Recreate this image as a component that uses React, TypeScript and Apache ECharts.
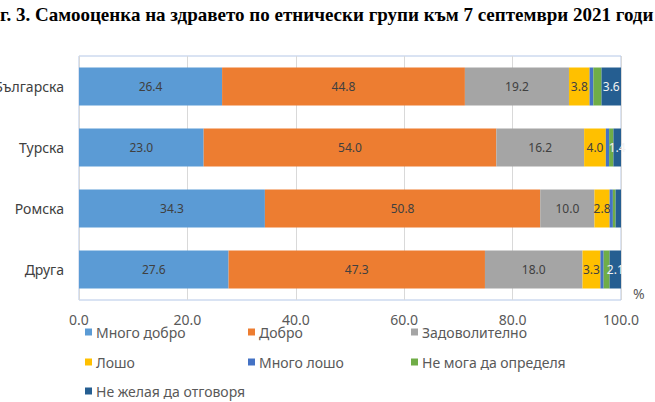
import React, { useEffect, useRef } from "react";
import * as echarts from "echarts";

const categories = ["Българска", "Турска", "Ромска", "Друга"];
const seriesNames = [
  "Много добро",
  "Добро",
  "Задоволително",
  "Лошо",
  "Много лошо",
  "Не мога да определя",
  "Не желая да отговоря",
];
const veryGood = [26.4, 23.0, 34.3, 27.6];
const good = [44.8, 54.0, 50.8, 47.3];
const satisfactory = [19.2, 16.2, 10.0, 18.0];
const bad = [3.8, 4.0, 2.8, 3.3];
const veryBad = [0.7, 0.6, 0.6, 0.6];
const cannotSay = [1.5, 0.8, 0.5, 1.1];
const noAnswer = [3.6, 1.4, 1.0, 2.1];
const xTicks = [0, 20, 40, 60, 80, 100];
const title = "г. 3. Самооценка на здравето по етнически групи към 7 септември 2021 годи";

const seriesValues = [veryGood, good, satisfactory, bad, veryBad, cannotSay, noAnswer];
const colors = ["#5b9bd5", "#ed7d31", "#a5a5a5", "#ffc000", "#4472c4", "#70ad47", "#255e91"];
const labelShown = [true, true, true, true, false, false, true];
const labelColors = ["#404040", "#404040", "#404040", "#404040", "#fff", "#fff", "#f2f2f2"];

const FONT = "Noto Sans";

export default function App() {
  const ref = useRef<HTMLDivElement>(null);
  useEffect(() => {
    if (!ref.current) return;
    const chart = echarts.init(ref.current, undefined, { renderer: "svg" });
    const legendPos = [
      [85, 325],
      [248, 325],
      [411, 325],
      [85, 355],
      [248, 355],
      [411, 355],
      [85, 384],
    ];
    chart.setOption({
      animation: false,
      backgroundColor: "#ffffff",
      textStyle: { fontFamily: FONT },
      grid: {
        left: 79,
        right: 34,
        top: 56,
        bottom: 102,
        containLabel: false,
        outerBoundsMode: "none",
        show: true,
        borderColor: "#b4c7e7",
        borderWidth: 1,
        backgroundColor: "transparent",
      },
      xAxis: {
        type: "value",
        min: xTicks[0],
        max: xTicks[xTicks.length - 1],
        interval: xTicks[1] - xTicks[0],
        axisLine: { show: false },
        axisTick: { show: false },
        splitLine: { show: true, lineStyle: { color: "#d9d9d9", width: 1 } },
        axisLabel: {
          color: "#595959",
          fontSize: 14,
          fontFamily: FONT,
          margin: 12,
          formatter: (v: number) => v.toFixed(1),
        },
      },
      yAxis: {
        type: "category",
        data: categories,
        inverse: true,
        axisLine: { show: false },
        axisTick: { show: false },
        axisLabel: { color: "#404040", fontSize: 14, fontFamily: FONT, margin: 15 },
      },
      legend: seriesNames.map((n, i) => ({
        data: [n],
        left: legendPos[i][0],
        top: legendPos[i][1],
        icon: "rect",
        itemWidth: 7,
        itemHeight: 7,
        padding: 0,
        selectedMode: false,
        textStyle: { color: "#595959", fontSize: 14, fontFamily: FONT, padding: [0, 0, 0, -1] },
      })),
      graphic: [
        {
          type: "text",
          left: 0,
          top: 5,
          style: {
            text: title,
            font: 'bold 19px "Liberation Serif"',
            fill: "#000",
          },
        },
        {
          type: "text",
          left: 633,
          top: 286,
          style: { text: "%", font: `14px "${FONT}"`, fill: "#595959" },
        },
      ],
      series: seriesNames.map((name, i) => ({
        name,
        type: "bar",
        stack: "total",
        barWidth: 38,
        itemStyle: { color: colors[i] },
        label: {
          show: labelShown[i],
          position: "inside",
          color: labelColors[i],
          fontSize: 12,
          fontFamily: FONT,
          formatter: (p: any) => (p.value >= 1.2 ? Number(p.value).toFixed(1) : ""),
        },
        data: seriesValues[i],
      })),
    });
    return () => chart.dispose();
  }, []);
  return (
    <div
      ref={ref}
      style={{ position: "fixed", left: 0, top: 0, width: 655, height: 402, background: "#fff" }}
    />
  );
}
